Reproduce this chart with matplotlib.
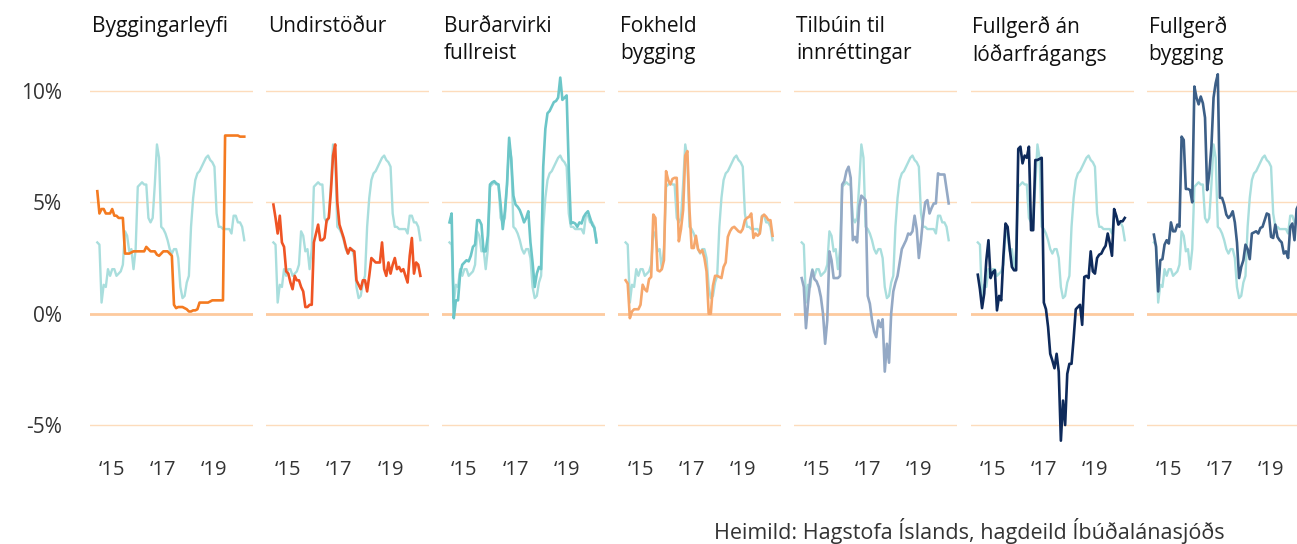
import pandas as pd
import matplotlib
matplotlib.use('Agg')
import matplotlib.pyplot as plt

# monthly values, Jun 2014 - Mar 2020 (12-month change, %)
months = pd.date_range('2014-06-01', periods=70, freq='MS')

# reference series shown in every panel
heild = [3.2, 3.1, 0.5, 1.3, 1.2, 2.0, 1.7, 2.0, 2.0, 1.7,
         1.8, 1.9, 2.2, 3.7, 3.5, 2.8, 2.9, 2.0, 2.9, 5.7,
         5.8, 5.9, 5.8, 5.8, 4.3, 4.1, 4.3, 5.8, 7.6, 7.0,
         3.9, 3.8, 3.6, 3.3, 2.9, 2.7, 2.9, 2.9, 2.5, 1.2,
         0.7, 0.8, 1.4, 1.7, 3.9, 5.2, 6.0, 6.3, 6.4, 6.6,
         6.8, 7.0, 7.1, 6.9, 6.8, 6.6, 4.5, 3.9, 3.9, 3.8,
         3.8, 3.8, 3.8, 3.6, 4.4, 4.4, 4.1, 4.1, 3.9, 3.3]

byggingarleyfi = [5.5, 4.5, 4.7, 4.7, 4.5, 4.5, 4.5, 4.7, 4.4, 4.4,
                  4.3, 4.3, 4.3, 2.7, 2.7, 2.7, 2.75, 2.8, 2.8, 2.8,
                  2.8, 2.8, 2.8, 3.0, 2.9, 2.8, 2.8, 2.8, 2.65, 2.6,
                  2.7, 2.8, 2.8, 2.8, 2.7, 2.6, 0.4, 0.25, 0.3, 0.3,
                  0.3, 0.25, 0.2, 0.1, 0.1, 0.15, 0.15, 0.2, 0.5, 0.5,
                  0.5, 0.5, 0.5, 0.55, 0.6, 0.6, 0.6, 0.6, 0.6, 0.6,
                  8.0, 8.0, 8.0, 8.0, 8.0, 8.0, 8.0, 7.95, 7.95, 7.95]

undirstodur = [4.9, 4.3, 3.6, 4.4, 3.2, 3.0, 1.9, 1.8, 1.4, 1.1,
               1.7, 1.5, 1.5, 1.2, 1.0, 0.3, 0.3, 0.4, 0.4, 3.2,
               3.6, 4.0, 3.3, 3.3, 3.4, 4.2, 4.3, 5.5, 7.1, 7.6,
               5.0, 4.0, 3.7, 3.4, 3.0, 2.7, 2.95, 2.85, 2.8, 1.5,
               1.3, 1.1, 1.5, 1.5, 1.0, 1.7, 2.5, 2.4, 2.3, 2.3,
               2.3, 3.2, 2.0, 1.7, 2.3, 1.8, 2.2, 2.5, 2.0, 2.1,
               1.9, 2.0, 1.7, 1.4, 2.6, 3.4, 1.8, 2.3, 2.2, 1.7]

burdarvirki = [4.1, 4.5, -0.2, 0.6, 0.6, 1.8, 2.2, 2.3, 2.4, 2.35,
               2.6, 3.0, 3.1, 4.2, 4.2, 4.0, 2.8, 2.8, 3.5, 5.8,
               5.9, 5.95, 5.85, 5.8, 4.9, 3.8, 4.6, 5.8, 7.9, 6.9,
               5.3, 4.9, 4.8, 4.65, 4.4, 4.1, 4.3, 4.6, 3.2, 2.3,
               1.2, 1.8, 2.1, 2.0, 6.6, 8.3, 9.0, 9.1, 9.3, 9.5,
               9.55, 9.7, 10.6, 9.6, 9.7, 9.8, 6.5, 4.05, 4.1, 4.05,
               3.9, 4.1, 4.05, 4.35, 4.5, 4.6, 4.3, 4.0, 3.85, 3.2]

fokheld = [1.5, 1.35, -0.2, 0.1, 0.2, 0.2, 0.2, 0.4, 1.3, 1.1,
           1.0, 1.55, 1.65, 4.45, 4.3, 1.95, 1.9, 2.0, 2.4, 6.4,
           6.0, 5.8, 6.05, 6.1, 6.1, 3.25, 3.8, 4.65, 7.1, 7.3,
           4.65, 2.95, 2.95, 3.5, 2.9, 2.75, 2.85, 2.5, 1.9, 0.0,
           0.0, 1.25, 1.7, 1.7, 1.65, 1.6, 2.1, 2.3, 3.45, 3.7,
           3.85, 3.9, 3.8, 3.7, 3.65, 3.8, 4.2, 4.3, 4.35, 4.5,
           3.4, 3.6, 3.5, 3.6, 4.35, 4.45, 4.35, 4.2, 4.2, 3.5]

tilbuin = [1.6, 1.2, -0.65, 0.5, 1.5, 1.95, 1.55, 1.45, 1.2, 0.75,
           0.0, -1.35, -0.3, 2.8, 2.4, 1.6, 1.6, 1.6, 1.7, 5.8,
           5.95, 6.4, 6.6, 6.1, 3.3, 3.45, 3.2, 4.8, 5.3, 5.2,
           5.1, 0.8, 0.45, -0.3, -0.8, -1.05, -0.3, -0.6, -0.25, -2.6,
           -1.35, -2.2, 0.0, 1.0, 1.4, 1.7, 2.3, 2.9, 3.1, 3.3,
           3.6, 3.55, 3.7, 4.4, 3.8, 2.5, 3.3, 4.3, 5.0, 5.1,
           4.5, 4.75, 4.95, 4.95, 6.3, 6.25, 6.25, 6.25, 5.6, 4.95]

fullgerd_an_lodar = [1.75, 1.1, 0.25, 0.9, 2.4, 3.3, 1.6, 1.85, 1.95, 0.15,
                     0.8, 0.6, 2.55, 4.05, 3.9, 2.9, 2.1, 1.95, 1.95, 7.4,
                     7.5, 6.75, 7.1, 7.0, 7.5, 3.75, 3.75, 6.9, 6.9, 6.95,
                     7.0, 0.5, 0.2, -0.6, -1.8, -2.1, -2.45, -1.8, -2.6, -5.7,
                     -3.9, -5.0, -2.7, -2.25, -2.25, -1.1, 0.2, 0.3, 0.4, -0.5,
                     1.65, 1.7, 1.6, 2.8, 1.9, 1.8, 2.5, 2.65, 2.7, 2.9,
                     3.05, 3.6, 3.15, 2.6, 4.7, 4.4, 4.0, 4.15, 4.15, 4.3]

fullgerd = [3.55, 3.0, 1.0, 2.4, 2.45, 3.1, 3.3, 3.15, 4.1, 3.7,
            3.7, 4.0, 3.9, 7.95, 7.8, 5.6, 5.6, 5.55, 5.0, 10.2,
            9.7, 9.4, 9.75, 9.45, 8.8, 5.55, 6.3, 7.5, 9.7, 10.35,
            10.75, 5.2, 5.2, 4.9, 4.45, 4.3, 4.4, 4.6, 4.1, 3.2,
            1.6, 2.1, 2.4, 3.1, 2.9, 2.45, 3.6, 3.65, 3.7, 3.6,
            3.85, 3.9, 4.2, 4.5, 4.45, 3.45, 3.4, 4.0, 3.45, 3.3,
            3.2, 2.7, 2.8, 2.5, 3.9, 4.05, 3.3, 4.7, 4.9, 4.5]

titles = ['Byggingarleyfi', 'Undirstöður', 'Burðarvirki\nfullreist',
          'Fokheld\nbygging', 'Tilbúin til\ninnréttingar',
          'Fullgerð án\nlóðarfrágangs', 'Fullgerð\nbygging']
series = [byggingarleyfi, undirstodur, burdarvirki, fokheld,
          tilbuin, fullgerd_an_lodar, fullgerd]
colors = ['#F47A20', '#EF5424', '#6CC6C8', '#F6A76C',
          '#94A9C5', '#0E2A5B', '#3C5F87']

y_ticks = [-5, 0, 5, 10]
y_labels = ['-5%', '0%', '5%', '10%']
x_ticks = [2015, 2017, 2019]
x_labels = ['\u201815', '\u201817', '\u201819']

plt.rcParams['font.family'] = ['Open Sans', 'DejaVu Sans']

W, H = 1297, 544
fig = plt.figure(figsize=(W / 100, H / 100), dpi=100)

x = months.year + (months.month - 1) / 12
ax_w = 163
ax_top, ax_bot = 68.7, 451.8

for i, (vals, col, title) in enumerate(zip(series, colors, titles)):
    left = 90 + 176.1 * i
    ax = fig.add_axes([left / W, 1 - ax_bot / H, ax_w / W, (ax_bot - ax_top) / H])
    for v in [-5, 5, 10]:
        ax.axhline(v, color='#FDDCBC', lw=1.0, zorder=0)
    ax.axhline(0, color='#FDCA9E', lw=2.0, zorder=0)
    ax.plot(x, heild, color='#A9DEDD', lw=1.7, zorder=1)
    ax.plot(x, vals, color=col, lw=1.9, zorder=2)
    ax.set_ylim(-6.2, 11.0)
    ax.set_xlim(2014.131, 2020.508)
    for s in ax.spines.values():
        s.set_visible(False)
    ax.set_xticks(x_ticks)
    ax.set_xticklabels(x_labels, fontsize=14.5, color='#333333')
    ax.tick_params(axis='x', length=0, pad=6)
    if i == 0:
        ax.set_yticks(y_ticks)
        ax.set_yticklabels(y_labels, fontsize=15, color='#333333')
        ax.tick_params(axis='y', length=0, pad=20)
    else:
        ax.set_yticks([])
    fig.text((left + 2) / W, 1 - 16 / H, title, ha='left', va='top',
             fontsize=15, color='#111111', linespacing=1.35)

fig.text(1225 / W, 1 - 531 / H, 'Heimild: Hagstofa Íslands, hagdeild Íbúðalánasjóðs',
         ha='right', va='center', fontsize=15.5, color='#333333')

fig.savefig('out.png', dpi=100)
